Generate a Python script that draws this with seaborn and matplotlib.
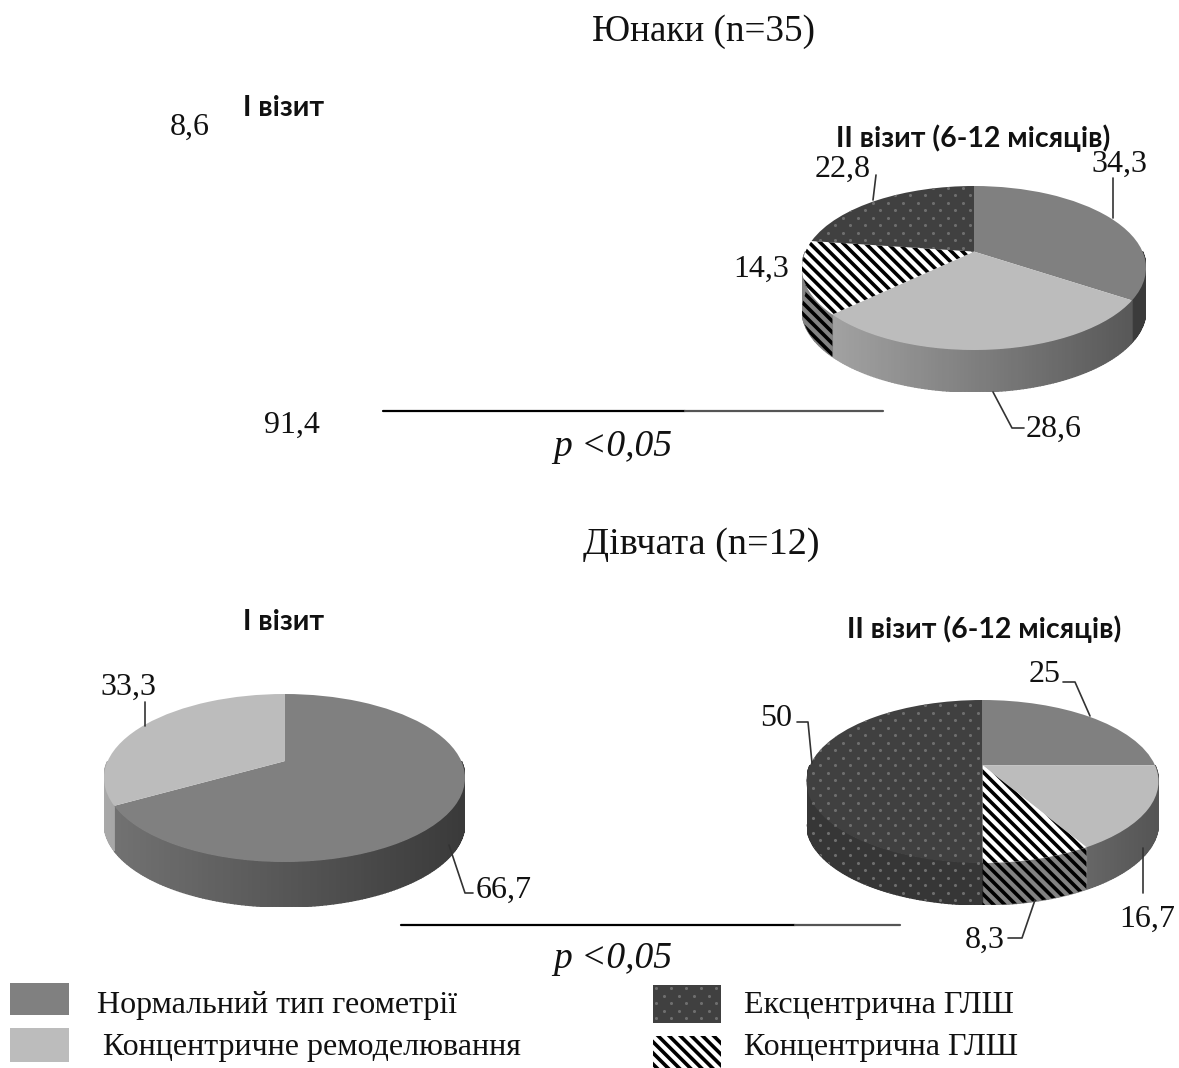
import numpy as np
import seaborn as sns
import matplotlib.pyplot as plt
from matplotlib.patches import Rectangle
from matplotlib.transforms import Transform

W, H = 1179, 1068
K = 0.2  # how far the apex sits above the centre of the ellipse

categories = ['Нормальний тип геометрії', 'Концентричне ремоделювання',
              'Ексцентрична ГЛШ', 'Концентрична ГЛШ']
boys_visit1 = [91.4, 8.6]
boys_visit2 = [34.3, 28.6, 14.3, 22.8]
girls_visit1 = [66.7, 33.3]
girls_visit2 = [25, 16.7, 8.3, 50]

sns.set_theme(style='white')
plt.rcParams['font.family'] = ['Liberation Serif', 'DejaVu Serif']
plt.rcParams['hatch.linewidth'] = 2.6
palette = sns.color_palette(['#808080', '#bcbcbc', '#404040', '#ffffff'])
order = [0, 1, 3, 2]  # slices run normal, remodelling, concentric, eccentric
STRIPES = '\\\\\\'


class Tilt(Transform):
    input_dims = output_dims = 2

    def transform_non_affine(self, xy):
        xy = np.asarray(xy, dtype=float)
        d = 1 + K * xy[:, 1]
        return np.column_stack([np.sqrt(1 - K ** 2) * xy[:, 0] / d, (xy[:, 1] + K) / d])


fig = plt.figure(figsize=(W / 100, H / 100), dpi=100)
tilt = Tilt()


def dots(ax, x0, x1, y0, y1, clip):
    xs, ys = np.meshgrid(np.arange(x0, x1, 15), np.arange(y0, y1, 7.5))
    xs = xs + 7.5 * (np.arange(xs.shape[0])[:, None] % 2)
    pts = ax.scatter(xs.ravel(), ys.ravel(), s=5, color='#6e6e6e', linewidths=0, zorder=5)
    pts.set_clip_path(clip)


def draw_pie(values, cats, cx, cy, rx, ry, depth):
    ax = fig.add_axes([(cx - rx) / W, 1 - (cy + ry + depth) / H, 2 * rx / W, (2 * ry + depth) / H])
    wedges, _ = ax.pie(values, startangle=90, counterclock=False, normalize=True,
                       colors=[palette[c] for c in cats], wedgeprops={'linewidth': 0})
    ax.set_aspect('auto')
    ax.set_xlim(-1, 1)
    ax.set_ylim(-1 - depth / ry, 1)
    ax.axis('off')
    drop = depth / ry
    clips = []
    for wedge, cat in zip(wedges, cats):
        wedge.set_transform(tilt + ax.transData)
        wedge.set_zorder(3)
        base = np.array(palette[cat])
        if cat == 3:
            wedge.set_hatch(STRIPES)
            wedge.set_edgecolor('black')
            base = np.array([0.6, 0.6, 0.6])
        # the visible wall is the part of the slice on the front half of the rim
        t1, t2 = wedge.theta1 % 360, wedge.theta2 % 360
        if t2 <= t1:
            t2 += 360
        lo, hi = max(t1, 180), min(t2, 360)
        if t2 > 540:
            lo = 180
        if hi <= lo:
            clips.append((wedge, None, cat))
            continue
        angles = np.r_[np.arange(lo, hi, 1.0), hi]
        rad = np.radians(angles)
        rim = tilt.transform_non_affine(np.column_stack([np.cos(rad), np.sin(rad)]))
        for i in range(len(rim) - 1):
            shade = 0.9 - 0.45 * (rim[i, 0] + 1) / 2
            if cat >= 2:
                shade = 0.85
            ax.fill([rim[i, 0], rim[i + 1, 0], rim[i + 1, 0], rim[i, 0]],
                    [rim[i, 1], rim[i + 1, 1], rim[i + 1, 1] - drop, rim[i, 1] - drop],
                    color=base * shade, linewidth=1.0, zorder=1)
        side = ax.fill(np.r_[rim[:, 0], rim[::-1, 0]], np.r_[rim[:, 1], rim[::-1, 1] - drop],
                       facecolor='none', edgecolor='black' if cat == 3 else 'none',
                       hatch=STRIPES if cat == 3 else None, linewidth=0, zorder=2)[0]
        clips.append((wedge, side, cat))
    return clips


pies = [draw_pie(boys_visit2, order, 974, 268, 172, 82, 42),
        draw_pie(girls_visit1, [0, 1], 284.5, 778, 180.5, 84, 45),
        draw_pie(girls_visit2, order, 982.5, 781.5, 176, 81.5, 42)]

# everything else sits on one axes measured in picture pixels
over = fig.add_axes([0, 0, 1, 1])
over.set_xlim(0, W)
over.set_ylim(H, 0)
over.axis('off')
over.patch.set_alpha(0)

for clips in pies:
    for wedge, side, cat in clips:
        if cat == 2:
            dots(over, 790, 1170, 180, 915, wedge)
            if side is not None:
                dots(over, 790, 1170, 180, 915, side)

SANS = ['Lato', 'DejaVu Sans']


def label(x, y, s, size=23, ha='center', **kw):
    over.text(x, y, s, fontsize=size, ha=ha, va='center', color='#111111', **kw)


label(703, 32, 'Юнаки (n=35)', size=26.7)
label(701, 545, 'Дівчата (n=12)', size=27.5)
for x, y, s in [(284, 108, 'І візит'), (973, 138, 'ІІ візит (6-12 місяців)'),
                (284, 622, 'І візит'), (984, 629, 'ІІ візит (6-12 місяців)')]:
    label(x, y, s, size=20.5, family=SANS, weight='bold')

label(190, 127, f'{boys_visit1[1]}'.replace('.', ','))
label(292, 425, f'{boys_visit1[0]}'.replace('.', ','))
for x, y, v in [(1119, 164, boys_visit2[0]), (1054, 429, boys_visit2[1]),
                (761, 269, boys_visit2[2]), (843, 169, boys_visit2[3]),
                (504, 890, girls_visit1[0]), (128, 687, girls_visit1[1]),
                (1045, 675, girls_visit2[0]), (1147, 919, girls_visit2[1]),
                (985, 940, girls_visit2[2]), (776, 718, girls_visit2[3])]:
    label(x, y, f'{v}'.replace('.', ','))

leaders = [([1113, 1113], [178, 218]), ([876, 873], [175, 200]),
           ([993, 1012, 1024], [392, 428, 428]), ([1063, 1075, 1090], [682, 682, 716]),
           ([797, 808, 812], [722, 722, 763]), ([1143, 1143], [848, 893]),
           ([1008, 1022, 1035], [938, 938, 900]), ([449, 465, 473], [845, 893, 893]),
           ([145, 145], [702, 726])]
for xs, ys in leaders:
    over.plot(xs, ys, color='#333333', lw=1.2, zorder=6)

for y, x0, xm, x1 in [(411, 383, 685, 883), (925, 401, 795, 900)]:
    over.plot([x0, xm], [y, y], color='black', lw=1.6)
    over.plot([xm, x1], [y, y], color='#555555', lw=1.6)
label(613, 447, 'p <0,05', size=27, style='italic')
label(613, 959, 'p <0,05', size=27, style='italic')

# legend
boxes = [(10, 983, 59, 32), (10, 1028, 59, 34), (653, 985, 68, 38), (653, 1036, 68, 32)]
texts = [(97, 1005), (103, 1047), (744, 1005), (744, 1047)]
for i, (name, box, pos) in enumerate(zip(categories, boxes, texts)):
    x, y, w, h = box
    swatch = Rectangle((x, y), w, h, facecolor=palette[i], linewidth=0,
                       edgecolor='black' if i == 3 else 'none', hatch=STRIPES if i == 3 else None)
    over.add_patch(swatch)
    if i == 2:
        dots(over, x + 3, x + w, y + 3, y + h, swatch)
    label(pos[0], pos[1], name, size=23, ha='left')

fig.savefig('out.png', dpi=100)
